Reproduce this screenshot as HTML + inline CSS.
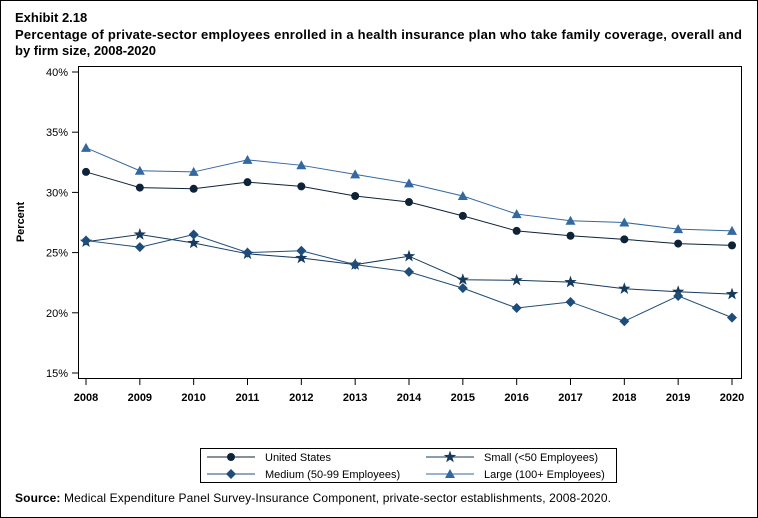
<!DOCTYPE html>
<html><head><meta charset="utf-8"><style>
body{margin:0;background:#fff}
svg{display:block;font-family:"Liberation Sans",Arial,sans-serif}
</style></head><body>
<svg width="758" height="518" viewBox="0 0 758 518">
<rect x="0.5" y="0.5" width="757" height="517" fill="#fff" stroke="#000"/>
<text x="15" y="22" font-size="13" font-weight="bold">Exhibit 2.18</text>
<text x="15" y="39" font-size="13" font-weight="bold" textLength="727" lengthAdjust="spacing">Percentage of private-sector employees enrolled in a health insurance plan who take family coverage, overall and</text>
<text x="15" y="55" font-size="13" font-weight="bold" textLength="141" lengthAdjust="spacing">by firm size, 2008-2020</text>
<rect x="78.5" y="66.5" width="663" height="312" fill="none" stroke="#000"/>
<text transform="translate(24,222) rotate(-90)" text-anchor="middle" font-size="11" font-weight="bold">Percent</text>
<g id="yaxis"></g><g id="xaxis"></g><g id="series"></g>
<rect x="200.5" y="448.5" width="416" height="34" fill="none" stroke="#000"/>
<g id="legend"></g>
<text x="15" y="502" font-size="12" textLength="596" lengthAdjust="spacing"><tspan font-weight="bold">Source:</tspan> Medical Expenditure Panel Survey-Insurance Component, private-sector establishments, 2008-2020.</text>
</svg>
<script>
const years=[2008,2009,2010,2011,2012,2013,2014,2015,2016,2017,2018,2019,2020];
const usValues=[31.7,30.4,30.3,30.85,30.5,29.7,29.2,28.05,26.8,26.4,26.1,25.75,25.6];
const smallValues=[25.9,26.5,25.8,24.9,24.55,24.0,24.7,22.75,22.7,22.55,22.0,21.75,21.55];
const mediumValues=[26.0,25.45,26.5,25.0,25.15,24.0,23.4,22.05,20.4,20.9,19.3,21.4,19.6];
const largeValues=[33.7,31.8,31.7,32.7,32.25,31.5,30.75,29.7,28.2,27.65,27.5,26.95,26.8];
const yTicks=[15,20,25,30,35,40];
const NS="http://www.w3.org/2000/svg";
const x=v=>86+(v-2008)*(732-86)/12;
const y=v=>373-(v-15)*(301/25);
function mk(tag,attrs,parent){const e=document.createElementNS(NS,tag);for(const k in attrs)e.setAttribute(k,attrs[k]);parent.appendChild(e);return e;}
const ya=document.getElementById('yaxis'),xa=document.getElementById('xaxis'),sg=document.getElementById('series'),lg=document.getElementById('legend');
yTicks.forEach(t=>{
 const l=mk('line',{x1:72,x2:78,y1:y(t),y2:y(t),stroke:'#000'},ya);
 
 
 const tx=mk('text',{x:68,y:y(t)+4,'text-anchor':'end','font-size':11},ya);tx.textContent=t+'%';
 
 
});
years.forEach(yr=>{
 const l=mk('line',{x1:x(yr),x2:x(yr),y1:379,y2:385,stroke:'#000'},xa);
 
 
 const tx=mk('text',{x:x(yr),y:401,'text-anchor':'middle','font-size':11,'font-weight':'bold'},xa);tx.textContent=yr;
 
 
});
function marker(type,cx,cy,color,parent){
 let e;
 if(type==='circle')e=mk('circle',{cx:cx,cy:cy,r:4,fill:color},parent);
 else if(type==='diamond')e=mk('polygon',{points:`${cx},${cy-5} ${cx+5},${cy} ${cx},${cy+5} ${cx-5},${cy}`,fill:color},parent);
 else if(type==='triangle')e=mk('polygon',{points:`${cx},${cy-5} ${cx+5},${cy+4} ${cx-5},${cy+4}`,fill:color},parent);
 else{let p=[];for(let i=0;i<10;i++){const r=i%2?2.6:6.5,a=-Math.PI/2+i*Math.PI/5;p.push((cx+r*Math.cos(a)).toFixed(1)+','+(cy+r*Math.sin(a)).toFixed(1));}e=mk('polygon',{points:p.join(' '),fill:color},parent);}
 return e;
}
const series=[
 {name:'united-states',vals:usValues,color:'#0e2238',m:'circle'},
 {name:'small',vals:smallValues,color:'#163a5e',m:'star'},
 {name:'medium',vals:mediumValues,color:'#1f4d7a',m:'diamond'},
 {name:'large',vals:largeValues,color:'#3468a0',m:'triangle'}];
series.forEach(s=>{
 const g=mk('g',{},sg);
 
 
 const pl=mk('polyline',{points:s.vals.map((v,i)=>x(years[i])+','+y(v)).join(' '),fill:'none',stroke:s.color,'stroke-width':1},g);
 
 
 s.vals.forEach((v,i)=>{const m=marker(s.m,x(years[i]),y(v),s.color,g);
  
  });
});
const legendItems=[
 {label:'United States',s:0,x:207,y:457},{label:'Small (<50 Employees)',s:1,x:426,y:457},
 {label:'Medium (50-99 Employees)',s:2,x:207,y:474},{label:'Large (100+ Employees)',s:3,x:426,y:474}];
legendItems.forEach(it=>{
 const s=series[it.s];const g=mk('g',{},lg);
 
 
 mk('line',{x1:it.x,x2:it.x+48,y1:it.y,y2:it.y,stroke:s.color},g);
 marker(s.m,it.x+24,it.y,s.color,g);
 const t=mk('text',{x:it.x+58,y:it.y+4,'font-size':11},g);t.textContent=it.label;
});
</script>
</body></html>
